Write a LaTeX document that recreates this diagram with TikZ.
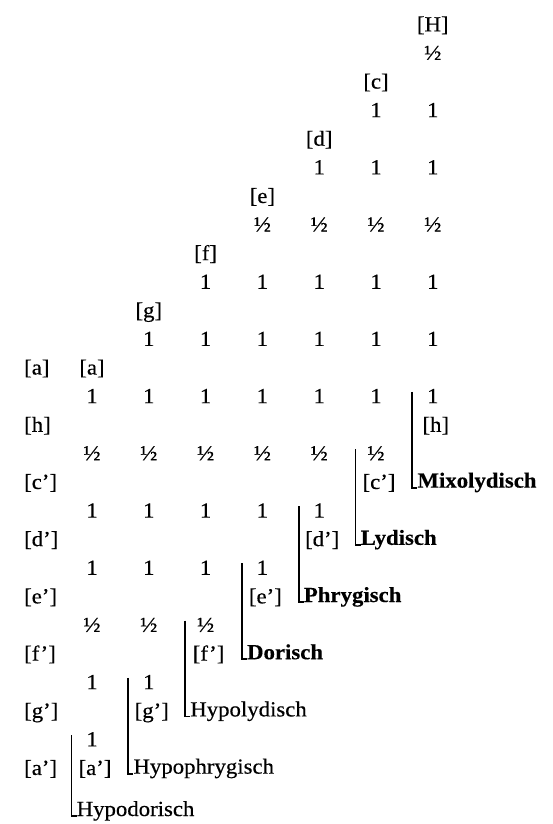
\documentclass[tikz,border=0pt]{standalone}
\usepackage{fontspec}
\setmainfont{Liberation Serif}[FakeStretch=1.06,FakeBold=0.4]
\begin{document}
\begin{tikzpicture}[x=1pt,y=-1pt,
  lab/.style={font=\fontsize{21.5}{25}\selectfont, inner sep=0pt, text height=15pt, text depth=4.3pt},
  notelab/.style={lab},
  ival/.style={lab},
  modelab/.style={font=\fontsize{21.5}{25}\selectfont, inner sep=0pt, anchor=base west},
  brk/.style={line width=1.8pt}]
\useasboundingbox (0,0) rectangle (553,824);
% left column of notes
\foreach \k/\n in {6/a,7/h,8/c',9/d',10/e',11/f',12/g',13/a'}
  \node[notelab, anchor=west] (L\k) at (24,{26+57.2*\k}) {[\n]};
% intervals
\foreach \i/\v in {0/½,1/1,2/1,3/½,4/1,5/1,6/1,7/½,8/1,9/1,10/½,11/1,12/1} {
  \foreach \j in {1,...,7} {
    \pgfmathtruncatemacro\lo{7-\j}
    \pgfmathtruncatemacro\hi{13-\j}
    \ifnum\i<\lo\else\ifnum\i>\hi\else
      \node[ival] (I\j-\i) at ({92+56.8*(\j-1)},{26+57.2*(\i+0.5)}) {\v};
    \fi\fi
  }
}
% columns: top note, bottom note, bracket, mode name
\foreach \j/\t/\b/\m/\f in {1/a/a'/Hypodorisch/\mdseries,
                            2/g/g'/Hypophrygisch/\mdseries,
                            3/f/f'/Hypolydisch/\mdseries,
                            4/e/e'/Dorisch/\bfseries,
                            5/d/d'/Phrygisch/\bfseries,
                            6/c/c'/Lydisch/\bfseries,
                            7/H/h/Mixolydisch/\bfseries} {
  \pgfmathsetmacro\xc{92+56.8*(\j-1)}
  \pgfmathsetmacro\ytop{26+57.2*(7-\j)}
  \pgfmathsetmacro\ybot{26+57.2*(14-\j)}
  \pgfmathsetmacro\ybr{26+57.2*(13-\j+0.5)-6}
  \pgfmathsetmacro\ymode{\j==1 ? 816 : 26+57.2*(15-\j)+4}
  \node[notelab] (T\j) at (\xc,\ytop) {[\t]};
  \node[notelab] (B\j) at ({\xc+3},\ybot) {[\b]};
  \node[modelab] (M\j) at ({\xc-20.5+5},\ymode) {\f\m};
  \coordinate (bt\j) at ({\xc-20.5},\ybr);
  \draw[brk] (bt\j) |- (M\j.base west);
}
\end{tikzpicture}
\end{document}
